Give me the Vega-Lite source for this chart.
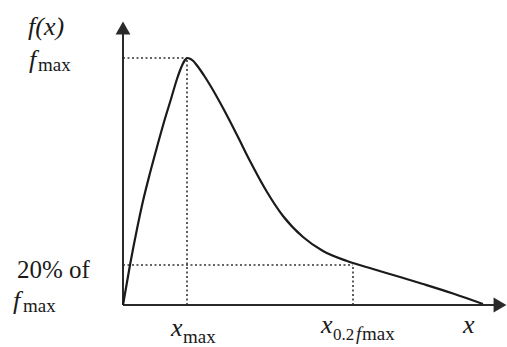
{
  "$schema": "https://vega.github.io/schema/vega-lite/v6.json",
  "width": 384,
  "height": 285,
  "autosize": {"type": "none"},
  "padding": {"left": 123, "top": 20, "right": 0, "bottom": 42},
  "background": "white",
  "config": {"view": {"stroke": null}},
  "datasets": {
    "curve": [
      {"x": 0, "y": 0}, {"x": 7, "y": 40}, {"x": 14, "y": 76}, {"x": 20, "y": 104},
      {"x": 27, "y": 132}, {"x": 34, "y": 158}, {"x": 41, "y": 183}, {"x": 48, "y": 206},
      {"x": 54, "y": 226}, {"x": 57, "y": 234.5}, {"x": 59.5, "y": 240.5}, {"x": 62, "y": 245},
      {"x": 64.5, "y": 247}, {"x": 67, "y": 246.3}, {"x": 70, "y": 244.3}, {"x": 74, "y": 239.5},
      {"x": 78, "y": 234}, {"x": 82, "y": 228}, {"x": 87, "y": 220},
      {"x": 100, "y": 197}, {"x": 114, "y": 170}, {"x": 127, "y": 144}, {"x": 144, "y": 113},
      {"x": 160, "y": 89}, {"x": 180, "y": 68}, {"x": 200, "y": 54}, {"x": 224, "y": 44},
      {"x": 250, "y": 36}, {"x": 277, "y": 28}, {"x": 300, "y": 21}, {"x": 330, "y": 11.5},
      {"x": 360, "y": 1}
    ],
    "guides": [
      {"x": 0, "y": 247, "x2": 64, "y2": 247},
      {"x": 64, "y": 0, "x2": 64, "y2": 247},
      {"x": 0, "y": 40, "x2": 230, "y2": 40},
      {"x": 230, "y": 0, "x2": 230, "y2": 40}
    ],
    "axes": [
      {"x": 0, "y": 0, "x2": 0, "y2": 272},
      {"x": 0, "y": 0, "x2": 375, "y2": 0}
    ],
    "heads": [
      {"x": 0, "y": 277, "dir": "triangle-up"},
      {"x": 377, "y": 0, "dir": "triangle-right"}
    ],
    "labels": [
      {"text": "f(x)", "x": -95, "y": 270, "role": "main"},
      {"text": "f", "x": -94, "y": 237, "role": "main"},
      {"text": "f", "x": -110, "y": -4, "role": "main"},
      {"text": "x", "x": 48, "y": -31, "role": "main"},
      {"text": "x", "x": 198, "y": -28, "role": "main"},
      {"text": "x", "x": 340, "y": -28, "role": "main"},
      {"text": "max", "x": -85, "y": 234, "role": "sub"},
      {"text": "max", "x": -100, "y": -7, "role": "sub"},
      {"text": "max", "x": 60, "y": -38, "role": "sub"},
      {"text": "0.2", "x": 210, "y": -35, "role": "subsmall"},
      {"text": "f", "x": 233, "y": -35, "role": "subit"},
      {"text": "max", "x": 239, "y": -35, "role": "sub"},
      {"text": "20% of", "x": -106, "y": 27, "role": "plain"}
    ]
  },
  "encoding": {
    "x": {"field": "x", "type": "quantitative", "scale": {"domain": [0, 384], "nice": false, "zero": false}, "axis": null},
    "y": {"field": "y", "type": "quantitative", "scale": {"domain": [0, 285], "nice": false, "zero": false}, "axis": null}
  },
  "layer": [
    {
      "data": {"name": "guides"},
      "mark": {"type": "rule", "color": "#333", "strokeWidth": 1.6, "strokeDash": [2, 2.5]},
      "encoding": {"x2": {"field": "x2"}, "y2": {"field": "y2"}}
    },
    {
      "data": {"name": "axes"},
      "mark": {"type": "rule", "color": "#2a2a2a", "strokeWidth": 2},
      "encoding": {"x2": {"field": "x2"}, "y2": {"field": "y2"}}
    },
    {
      "data": {"name": "heads"},
      "mark": {"type": "point", "filled": true, "color": "#2a2a2a", "size": 220, "opacity": 1},
      "encoding": {"shape": {"field": "dir", "type": "nominal", "scale": null, "legend": null}}
    },
    {
      "data": {"name": "curve"},
      "mark": {"type": "line", "color": "#1a1a1a", "strokeWidth": 2.2, "interpolate": "monotone"}
    },
    {
      "data": {"name": "labels"},
      "transform": [{"filter": "datum.role === 'main'"}],
      "mark": {"type": "text", "align": "left", "baseline": "alphabetic", "font": "Liberation Serif", "fontStyle": "italic", "fontSize": 26, "color": "#1a1a1a"},
      "encoding": {"text": {"field": "text"}}
    },
    {
      "data": {"name": "labels"},
      "transform": [{"filter": "datum.role === 'sub'"}],
      "mark": {"type": "text", "align": "left", "baseline": "alphabetic", "font": "Liberation Serif", "fontSize": 19, "color": "#1a1a1a"},
      "encoding": {"text": {"field": "text"}}
    },
    {
      "data": {"name": "labels"},
      "transform": [{"filter": "datum.role === 'subsmall'"}],
      "mark": {"type": "text", "align": "left", "baseline": "alphabetic", "font": "Liberation Serif", "fontSize": 17, "color": "#1a1a1a"},
      "encoding": {"text": {"field": "text"}}
    },
    {
      "data": {"name": "labels"},
      "transform": [{"filter": "datum.role === 'subit'"}],
      "mark": {"type": "text", "align": "left", "baseline": "alphabetic", "font": "Liberation Serif", "fontStyle": "italic", "fontSize": 19, "color": "#1a1a1a"},
      "encoding": {"text": {"field": "text"}}
    },
    {
      "data": {"name": "labels"},
      "transform": [{"filter": "datum.role === 'plain'"}],
      "mark": {"type": "text", "align": "left", "baseline": "alphabetic", "font": "Liberation Serif", "fontSize": 25, "color": "#1a1a1a"},
      "encoding": {"text": {"field": "text"}}
    }
  ]
}
